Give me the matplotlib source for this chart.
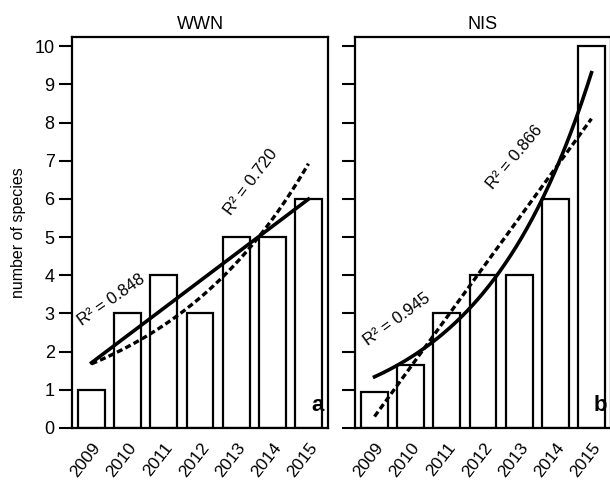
import numpy as np
import matplotlib.pyplot as plt
import matplotlib.transforms as mtransforms

plt.rcParams["font.family"] = ["Liberation Sans", "DejaVu Sans"]

# bar data (number of species per year)
years = ["2009", "2010", "2011", "2012", "2013", "2014", "2015"]
wwn_counts = [1, 3, 4, 3, 5, 5, 6]
nis_counts = [0.95, 1.65, 3, 4, 4, 6, 10]

# trend lines: linear = (intercept, slope), exponential = (a, b)
wwn_linear = [1.71, 0.714]
wwn_expo = [1.68, 0.236]
nis_linear = [0.30, 1.30]
nis_expo = [1.34, 0.323]

# R² labels: text, x, y, rotation
wwn_labels = [("R² = 0.848", 0.55, 3.35, 35), ("R² = 0.720", 4.42, 6.45, 53)]
nis_labels = [("R² = 0.945", 0.62, 2.85, 36), ("R² = 0.866", 3.87, 7.1, 50)]

fig = plt.figure(figsize=(6.1, 4.84), dpi=100)
ax_a = fig.add_axes([72 / 610, 1 - 428 / 484, 256 / 610, 391 / 484])
ax_b = fig.add_axes([355 / 610, 1 - 428 / 484, 256 / 610, 391 / 484])

xs = np.arange(len(years))
xc = np.linspace(0, len(years) - 1, 200)


def linear(p):
    return p[0] + p[1] * xc


def expo(p):
    return p[0] * np.exp(p[1] * xc)


def draw_panel(ax, counts, title, solid, dashed, labels, letter, show_ylabels):
    ax.bar(xs, counts, width=0.74, color="white", edgecolor="black", linewidth=1.6, zorder=2)
    ax.plot(xc, solid, color="black", linewidth=2.6, zorder=3)
    ax.plot(xc, dashed, color="black", linewidth=2.4, linestyle=(0, (1.8, 1.0)), zorder=3)

    for txt, x, y, rot in labels:
        ax.text(x, y, txt, rotation=rot, ha="center", va="center",
                fontsize=12, rotation_mode="anchor", zorder=4)

    ax.text(0.985, 0.03, letter, transform=ax.transAxes, ha="right", va="bottom",
            fontsize=16, fontweight="bold", zorder=4)

    ax.set_xlim(-0.54, len(years) - 0.46)
    ax.set_ylim(0, 10.24)
    ax.set_yticks(range(0, 11))
    ax.set_xticks(xs)
    ax.set_xticklabels(years, rotation=52, ha="right", va="top", rotation_mode="anchor",
                       fontsize=12.5)
    offset = mtransforms.ScaledTranslation(0.13, 0, fig.dpi_scale_trans)
    for lab in ax.get_xticklabels():
        lab.set_transform(lab.get_transform() + offset)
    ax.tick_params(axis="x", length=0, pad=9)
    ax.tick_params(axis="y", length=9.5, width=1.5, labelsize=13, pad=3)
    if not show_ylabels:
        ax.tick_params(axis="y", labelleft=False)
    for sp in ax.spines.values():
        sp.set_linewidth(1.6)
    ax.set_title(title, fontsize=13, pad=6)


draw_panel(ax_a, wwn_counts, "WWN", linear(wwn_linear), expo(wwn_expo), wwn_labels, "a", True)
draw_panel(ax_b, nis_counts, "NIS", expo(nis_expo), linear(nis_linear), nis_labels, "b", False)

ax_a.set_ylabel("number of species", fontsize=11.5, labelpad=6)

fig.savefig("out.png", dpi=100)
